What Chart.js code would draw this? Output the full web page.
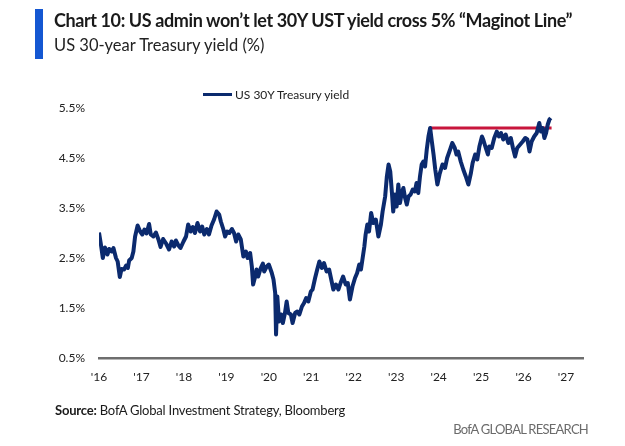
<!DOCTYPE html>
<html>
<head>
<meta charset="utf-8">
<script src="https://cdn.jsdelivr.net/npm/chart.js@4.4.1/dist/chart.umd.min.js"></script>
<style>
  html, body { margin: 0; padding: 0; background: #fff; }
  body { width: 625px; height: 446px; position: relative; overflow: hidden; font-family: Lato, "Open Sans", sans-serif; }
  #bar { position: absolute; left: 35px; top: 9px; width: 8px; height: 50px; background: #1457d2; }
  #title { position: absolute; left: 54px; top: 9px; font-size: 18px; font-weight: 700; color: #1a1a1a; white-space: nowrap; letter-spacing: -0.4px; }
  #subtitle { position: absolute; left: 54px; top: 35px; font-size: 16.5px; color: #222; white-space: nowrap; }
  #legend { position: absolute; left: 203px; top: 87px; font-size: 12px; color: #222; white-space: nowrap; }
  #legend span.swatch { display: inline-block; width: 29px; height: 3px; background: #0b2a6e; vertical-align: middle; margin-right: 3px; position: relative; top: -1px; }
  #source { position: absolute; left: 55px; top: 402px; font-size: 13px; color: #1a1a1a; white-space: nowrap; letter-spacing: -0.2px; }
  #brand { position: absolute; right: 37px; top: 421px; font-size: 13px; color: #6b6b6b; white-space: nowrap; letter-spacing: -0.75px; }
  #wrap { position: absolute; left: 0; top: 0; width: 625px; height: 446px; }
</style>
</head>
<body>
<div id="wrap"><canvas id="yieldChart"></canvas></div>
<div id="bar"></div>
<div id="title">Chart 10: US admin won’t let 30Y UST yield cross 5% “Maginot Line”</div>
<div id="subtitle">US 30-year Treasury yield (%)</div>
<div id="legend"><span class="swatch"></span>US 30Y Treasury yield</div>
<div id="source"><b>Source:</b> BofA Global Investment Strategy, Bloomberg</div>
<div id="brand">BofA GLOBAL RESEARCH</div>
<script>
// 30Y yield (decimal year, %)
const yieldYears = [
  2016.00, 2016.04, 2016.09, 2016.14, 2016.20, 2016.24, 2016.30, 2016.34, 2016.40, 2016.44,
  2016.49, 2016.53, 2016.59, 2016.64, 2016.68, 2016.71, 2016.77, 2016.81, 2016.85, 2016.91,
  2016.97, 2017.02, 2017.07, 2017.12, 2017.18, 2017.22, 2017.28, 2017.34, 2017.40, 2017.45,
  2017.51, 2017.58, 2017.65, 2017.71, 2017.77, 2017.81, 2017.87, 2017.92, 2017.99, 2018.05,
  2018.10, 2018.16, 2018.21, 2018.26, 2018.32, 2018.38, 2018.43, 2018.48, 2018.54, 2018.59,
  2018.65, 2018.71, 2018.77, 2018.83, 2018.87, 2018.93, 2018.97, 2019.02, 2019.07, 2019.13,
  2019.18, 2019.23, 2019.28, 2019.34, 2019.40, 2019.46, 2019.50, 2019.56, 2019.60, 2019.63,
  2019.67, 2019.71, 2019.75, 2019.81, 2019.86, 2019.89, 2019.95, 2020.00, 2020.07, 2020.11,
  2020.15, 2020.17, 2020.20, 2020.24, 2020.29, 2020.33, 2020.38, 2020.42, 2020.46, 2020.52,
  2020.56, 2020.62, 2020.67, 2020.72, 2020.78, 2020.83, 2020.88, 2020.93, 2020.99, 2021.03,
  2021.09, 2021.14, 2021.19, 2021.25, 2021.30, 2021.36, 2021.42, 2021.47, 2021.52, 2021.58,
  2021.64, 2021.69, 2021.75, 2021.81, 2021.86, 2021.91, 2021.97, 2022.03, 2022.08, 2022.13,
  2022.17, 2022.21, 2022.25, 2022.28, 2022.32, 2022.36, 2022.41, 2022.46, 2022.52, 2022.58,
  2022.64, 2022.68, 2022.74, 2022.78, 2022.82, 2022.86, 2022.90, 2022.93, 2022.97, 2023.01,
  2023.05, 2023.09, 2023.13, 2023.17, 2023.21, 2023.25, 2023.29, 2023.34, 2023.39, 2023.44,
  2023.48, 2023.52, 2023.56, 2023.60, 2023.64, 2023.68, 2023.72, 2023.76, 2023.80, 2023.84,
  2023.88, 2023.92, 2023.97, 2024.02, 2024.09, 2024.15, 2024.20, 2024.27, 2024.32, 2024.38,
  2024.42, 2024.46, 2024.52, 2024.58, 2024.64, 2024.70, 2024.76, 2024.80, 2024.86, 2024.91,
  2024.96, 2025.02, 2025.05, 2025.11, 2025.16, 2025.19, 2025.25, 2025.31, 2025.37, 2025.42,
  2025.47, 2025.52, 2025.58, 2025.64, 2025.70, 2025.75, 2025.80, 2025.85, 2025.92, 2025.98,
  2026.04, 2026.09, 2026.14, 2026.19, 2026.25, 2026.31, 2026.37, 2026.41, 2026.45, 2026.49,
  2026.53, 2026.57, 2026.61, 2026.64
];
const yieldValues = [
  3.01, 2.80, 2.50, 2.71, 2.57, 2.68, 2.63, 2.70, 2.50, 2.43,
  2.12, 2.28, 2.27, 2.35, 2.30, 2.45, 2.50, 2.63, 2.93, 3.15,
  3.03, 2.97, 3.07, 2.99, 3.18, 2.97, 2.93, 3.01, 2.87, 2.72,
  2.88, 2.79, 2.67, 2.83, 2.73, 2.85, 2.75, 2.70, 2.83, 2.93,
  3.17, 3.03, 3.12, 3.00, 3.20, 3.03, 3.13, 2.97, 3.08, 2.97,
  3.15, 3.27, 3.43, 3.37, 3.23, 3.07, 2.93, 3.03, 3.00, 3.08,
  3.00, 2.83, 2.97, 2.87, 2.53, 2.63, 2.50, 2.60, 2.33, 1.97,
  2.10, 2.27, 2.13, 2.30, 2.39, 2.23, 2.33, 2.37, 2.20, 2.07,
  1.80, 0.97, 1.73, 1.23, 1.37, 1.20, 1.40, 1.63, 1.40, 1.37,
  1.20, 1.40, 1.43, 1.37, 1.53, 1.60, 1.70, 1.63, 1.83, 1.87,
  2.10, 2.27, 2.43, 2.30, 2.40, 2.23, 2.27, 2.07, 1.87, 1.97,
  1.87, 2.00, 2.13, 1.97, 2.00, 1.67, 1.93, 2.10, 2.20, 2.37,
  2.27, 2.50, 2.73, 2.97, 3.17, 3.03, 3.40, 3.20, 3.27, 2.93,
  3.17, 3.43, 3.73, 4.13, 4.37, 4.23, 3.80, 3.43, 3.77, 3.53,
  3.97, 3.60, 3.80, 3.90, 3.70, 3.57, 3.73, 3.77, 3.87, 3.83,
  4.00, 3.80, 4.13, 4.37, 4.43, 4.33, 4.67, 4.93, 5.10, 4.83,
  4.57, 4.27, 3.97, 4.17, 4.37, 4.30, 4.50, 4.67, 4.80, 4.70,
  4.57, 4.63, 4.43, 4.27, 4.13, 3.97, 4.20, 4.40, 4.57, 4.47,
  4.73, 4.93, 4.87, 4.70, 4.57, 4.73, 4.70, 4.90, 5.03, 4.93,
  5.00, 4.87, 4.97, 4.80, 4.90, 4.70, 4.53, 4.70, 4.77, 4.83,
  4.90, 4.87, 4.63, 4.83, 4.93, 5.00, 5.20, 5.03, 5.10, 4.90,
  5.00, 5.17, 5.27, 5.30
];

// the 5% "Maginot Line"
const capYears = [2023.80, 2026.66];
const capValues = [5.1, 5.1];

const xTickYears = [2016, 2017, 2018, 2019, 2020, 2021, 2022, 2023, 2024, 2025, 2026, 2027];
const xTickLabels = ["'16", "'17", "'18", "'19", "'20", "'21", "'22", "'23", "'24", "'25", "'26", "'27"];
const yTickValues = [0.5, 1.5, 2.5, 3.5, 4.5, 5.5];

const toPoints = (xs, ys) => xs.map((x, i) => ({ x: x, y: ys[i] }));

const tickFont = { family: 'Lato, "Open Sans", sans-serif', size: 12 };

const ctx = document.getElementById('yieldChart').getContext('2d');
const chart = new Chart(ctx, {
  type: 'line',
  data: {
    datasets: [
      {
        label: 'US 30Y Treasury yield',
        data: toPoints(yieldYears, yieldValues),
        borderColor: '#0b2a6e',
        borderWidth: 4,
        pointRadius: 0,
        tension: 0,
        borderJoinStyle: 'round'
      },
      {
        label: 'Maginot Line',
        data: toPoints(capYears, capValues),
        borderColor: '#c8163c',
        borderWidth: 3,
        pointRadius: 0,
        tension: 0
      }
    ]
  },
  options: {
    responsive: true,
    maintainAspectRatio: false,
    animation: false,
    layout: { padding: { left: 0, right: 42, top: 108, bottom: 0 } },
    plugins: { legend: { display: false }, tooltip: { enabled: false } },
    scales: {
      x: {
        type: 'linear',
        min: 2016,
        max: 2027.4,
        grid: { display: false, drawTicks: false },
        border: { display: true, color: '#6e6e6e', width: 2.5 },
        afterBuildTicks: axis => { axis.ticks = xTickYears.map(v => ({ value: v })); },
        afterFit: axis => { axis.height = 88; },
        ticks: {
          padding: 12,
          color: '#222',
          font: tickFont,
          maxRotation: 0,
          autoSkip: false,
          callback: v => xTickLabels[xTickYears.indexOf(v)]
        }
      },
      y: {
        min: 0.5,
        max: 5.5,
        grid: { display: false, drawTicks: false },
        border: { display: false },
        afterBuildTicks: axis => { axis.ticks = yTickValues.map(v => ({ value: v })); },
        afterFit: axis => { axis.width = 99; },
        ticks: {
          padding: 14,
          color: '#222',
          font: tickFont,
          callback: v => v.toFixed(1) + '%'
        }
      }
    }
  }
});
</script>
</body>
</html>
